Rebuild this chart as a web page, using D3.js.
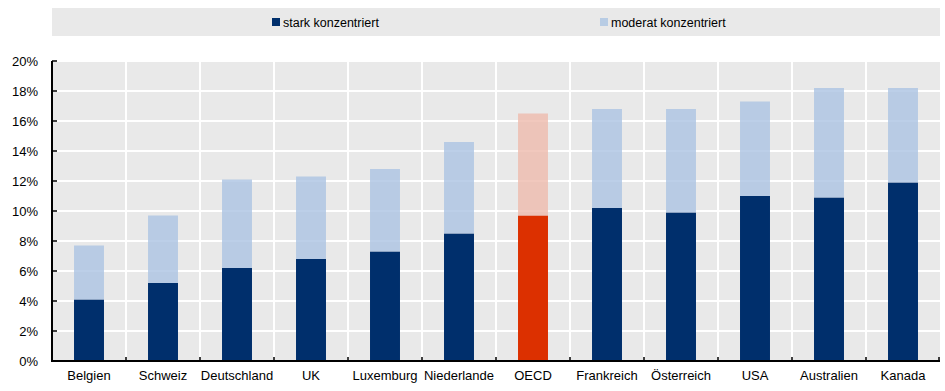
<!DOCTYPE html>
<html>
<head>
<meta charset="utf-8">
<script src="https://cdn.jsdelivr.net/npm/d3@7"></script>
<style>
  body { margin: 0; background: #ffffff; }
  svg text { font-family: Arial, "Liberation Sans", sans-serif; font-size: 13px; fill: #000; }
  svg text.legend { font-size: 12.5px; }
</style>
</head>
<body>
<div class="chart"></div>
<script>
"use strict";

var countries = ["Belgien", "Schweiz", "Deutschland", "UK", "Luxemburg", "Niederlande",
                 "OECD", "Frankreich", "Österreich", "USA", "Australien", "Kanada"];
var stark   = [4.1, 5.2, 6.2, 6.8, 7.3, 8.5, 9.7, 10.2, 9.9, 11.0, 10.9, 11.9];
var moderat = [3.6, 4.5, 5.9, 5.5, 5.5, 6.1, 6.8, 6.6, 6.9, 6.3, 7.3, 6.3];
var yTicks  = [0, 2, 4, 6, 8, 10, 12, 14, 16, 18, 20];
var seriesNames = ["stark konzentriert", "moderat konzentriert"];

(function(){
var width = 945,
    height = 391;
var pLeft = 52, pRight = 940, pTop = 61, pBottom = 361;

var svg = d3.select(".chart")
          .append("svg")
          .attr("width", width)
          .attr("height", height);

// legend band
svg.append("rect")
    .attr("x", pLeft).attr("y", 8)
    .attr("width", pRight - pLeft).attr("height", 28)
    .attr("fill", "#e9e9e9");

var legendX = [272, 600];
var legendColor = ["#002f6c", "#b8cce4"];
seriesNames.forEach(function(name, i){
  svg.append("rect")
      .attr("x", legendX[i]).attr("y", 18)
      .attr("width", 8).attr("height", 8)
      .attr("fill", legendColor[i]);
  svg.append("text")
      .attr("class", "legend")
      .attr("x", legendX[i] + 11).attr("y", 26.5)
      .text(name);
});

var x = d3.scaleBand()
    .domain(countries)
    .range([pLeft, pRight]);

var y = d3.scaleLinear()
    .domain([0, 20])
    .range([pBottom, pTop]);

// plot background
svg.append("rect")
    .attr("x", pLeft).attr("y", pTop)
    .attr("width", pRight - pLeft).attr("height", pBottom - pTop)
    .attr("fill", "#e9e9e9");

// horizontal grid
svg.append("g")
    .selectAll("line")
    .data(yTicks.filter(function(d){ return d > 0; }))
    .enter().append("line")
        .attr("x1", pLeft).attr("x2", pRight)
        .attr("y1", function(d){ return y(d); })
        .attr("y2", function(d){ return y(d); })
        .style("stroke", "#ffffff")
        .style("stroke-width", 2);

// vertical grid between categories
svg.append("g")
    .selectAll("line")
    .data(countries.slice(1))
    .enter().append("line")
        .attr("x1", function(d){ return x(d); })
        .attr("x2", function(d){ return x(d); })
        .attr("y1", pTop).attr("y2", pBottom)
        .style("stroke", "#ffffff")
        .style("stroke-width", 2);

var rows = countries.map(function(c, i){
  return { country: c, stark: stark[i], moderat: moderat[i] };
});
var stack = d3.stack().keys(["stark", "moderat"])(rows);

var barW = x.bandwidth() * 0.405;

function barColor(key, country){
  if (country === "OECD") return key === "stark" ? "#dc3000" : "#eebcae";
  return key === "stark" ? "#002f6c" : "#adc5e3";
}

svg.append("g")
    .selectAll("g")
    .data(stack)
    .enter().append("g")
    .selectAll("rect")
    .data(function(s){ return s.map(function(d){ return { key: s.key, d: d }; }); })
    .enter().append("rect")
        .attr("x", function(e){ return x(e.d.data.country) + (x.bandwidth() - barW) / 2; })
        .attr("width", barW)
        .attr("y", function(e){ return y(e.d[1]); })
        .attr("height", function(e){ return y(e.d[0]) - y(e.d[1]); })
        .attr("fill", function(e){ return barColor(e.key, e.d.data.country); })
        .attr("fill-opacity", function(e){ return e.key === "moderat" ? 0.82 : 1; });

// y axis
var yAxis = svg.append("g");
yAxis.append("line")
    .attr("x1", pLeft).attr("x2", pLeft)
    .attr("y1", pTop).attr("y2", pBottom + 1)
    .style("stroke", "#000").style("stroke-width", 2);
yAxis.selectAll(".tick")
    .data(yTicks)
    .enter().append("line")
        .attr("x1", pLeft).attr("x2", pLeft + 5)
        .attr("y1", function(d){ return y(d); })
        .attr("y2", function(d){ return y(d); })
        .style("stroke", "#000").style("stroke-width", 1.5);
yAxis.selectAll("text")
    .data(yTicks)
    .enter().append("text")
        .attr("x", 38)
        .attr("y", function(d){ return y(d) + 5; })
        .attr("text-anchor", "end")
        .text(function(d){ return d + "%"; });

// x axis
var xAxis = svg.append("g");
xAxis.append("line")
    .attr("x1", pLeft - 1).attr("x2", pRight)
    .attr("y1", pBottom).attr("y2", pBottom)
    .style("stroke", "#000").style("stroke-width", 2);
xAxis.selectAll(".tick")
    .data(countries.slice(1).concat(["_end"]))
    .enter().append("line")
        .attr("x1", function(d){ return d === "_end" ? pRight - 1 : x(d); })
        .attr("x2", function(d){ return d === "_end" ? pRight - 1 : x(d); })
        .attr("y1", pBottom).attr("y2", pBottom - 4)
        .style("stroke", "#000").style("stroke-width", 1.5);
xAxis.selectAll("text")
    .data(countries)
    .enter().append("text")
        .attr("x", function(d){ return x(d) + x.bandwidth() / 2; })
        .attr("y", 380)
        .attr("text-anchor", "middle")
        .text(function(d){ return d; });
})();
</script>
</body>
</html>
